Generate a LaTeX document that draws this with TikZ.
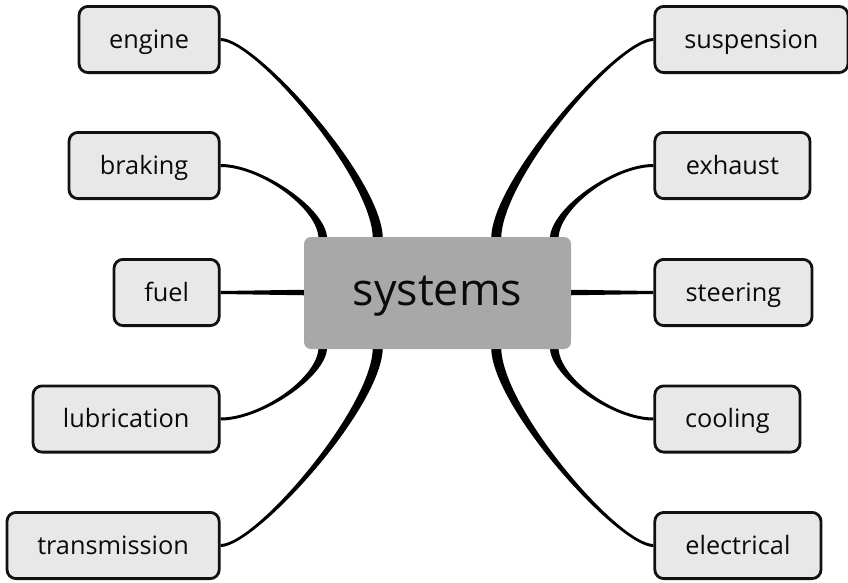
\documentclass[tikz,border=0pt]{standalone}
\usepackage{fontspec}
\setmainfont{Open Sans}
\usetikzlibrary{calc,backgrounds}
\definecolor{boxfill}{HTML}{E8E8E8}
\definecolor{boxline}{HTML}{111111}
\definecolor{hubfill}{HTML}{A8A8A8}
\definecolor{txt}{HTML}{0A0A0A}
% tapered connector: #1 branch anchor, #2 hub point, #3 x-offset of control at branch,
% #4 y-offset of control at hub, #5 half width at branch, #6 half width at hub (signed)
\newcommand\taper[6]{%
  \fill[black] let \p1=(#1), \p2=(#2) in
    (\x1,{\y1+(#5)}) .. controls ({\x1+(#3)},{\y1+(#5)}) and ({\x2+(#6)},{\y2+(#4)}) .. ({\x2+(#6)},\y2)
    -- ({\x2-(#6)},\y2) .. controls ({\x2-(#6)},{\y2+(#4)}) and ({\x1+(#3)},{\y1-(#5)}) .. (\x1,{\y1-(#5)}) -- cycle;}
\begin{document}
\begin{tikzpicture}[x=1pt,y=-1pt,
  branch/.style={draw=boxline, fill=boxfill, line width=2.8pt, rounded corners=9pt,
    minimum height=66.2pt, inner sep=0pt, text=txt,
    font=\fontsize{25.3}{30}\selectfont, text height=21.6pt, text depth=4pt},
  hub/.style={fill=hubfill, rounded corners=7pt, minimum width=267pt, minimum height=112pt,
    inner sep=0pt, text=txt, font=\fontsize{44.8}{52}\selectfont, text height=34pt, text depth=10pt}]
\useasboundingbox (0,0) rectangle (848,582);
\node[hub] (sys) at (437.5,293) {systems};
% left branches
\node[branch, minimum width=140.2pt, anchor=east] (engine) at (220.6,39.5) {engine};
\node[branch, minimum width=150.2pt, anchor=east] (braking) at (220.6,165.5) {braking};
\node[branch, minimum width=105.2pt, anchor=east] (fuel) at (220.6,292.5) {fuel};
\node[branch, minimum width=186.2pt, anchor=east] (lubrication) at (220.6,419) {lubrication};
\node[branch, minimum width=212.2pt, anchor=east] (transmission) at (220.6,545.5) {transmission};
% right branches
\node[branch, minimum width=193.2pt, anchor=west] (suspension) at (653.4,39.5) {suspension};
\node[branch, minimum width=155.2pt, anchor=west] (exhaust) at (653.4,165.5) {exhaust};
\node[branch, minimum width=157.2pt, anchor=west] (steering) at (653.4,292.5) {steering};
\node[branch, minimum width=145.2pt, anchor=west] (cooling) at (653.4,419) {cooling};
\node[branch, minimum width=166.2pt, anchor=west] (electrical) at (653.4,545.5) {electrical};
% hub attachment points
\coordinate (hEngine) at ($(sys.north west)+(74,2)$);
\coordinate (hBraking) at ($(sys.north west)+(19,2)$);
\coordinate (hLub) at ($(sys.south west)+(19,-2)$);
\coordinate (hTrans) at ($(sys.south west)+(74,-2)$);
\coordinate (hSusp) at ($(sys.north east)+(-75,2)$);
\coordinate (hExh) at ($(sys.north east)+(-17,2)$);
\coordinate (hCool) at ($(sys.south east)+(-17,-2)$);
\coordinate (hElec) at ($(sys.south east)+(-75,-2)$);
\begin{scope}[on background layer]
  \taper{engine.east}{hEngine}{35pt}{60pt}{1.5pt}{5pt}
  \taper{braking.east}{hBraking}{40pt}{30pt}{1.5pt}{4.3pt}
  \taper{lubrication.east}{hLub}{40pt}{-30pt}{1.5pt}{-4.3pt}
  \taper{transmission.east}{hTrans}{35pt}{-60pt}{1.5pt}{-5pt}
  \taper{suspension.west}{hSusp}{-35pt}{60pt}{1.5pt}{-5pt}
  \taper{exhaust.west}{hExh}{-40pt}{30pt}{1.5pt}{-4.3pt}
  \taper{cooling.west}{hCool}{-40pt}{-30pt}{1.5pt}{4.3pt}
  \taper{electrical.west}{hElec}{-35pt}{-60pt}{1.5pt}{5pt}
  \fill[black] let \p1=(fuel.east), \p2=(sys.west) in
    (\x1,{\y1+1.5pt}) -- ({\x2+3pt},{\y1+2.8pt}) -- ({\x2+3pt},{\y1-2.8pt}) -- (\x1,{\y1-1.5pt}) -- cycle;
  \fill[black] let \p1=(steering.west), \p2=(sys.east) in
    (\x1,{\y1+1.5pt}) -- ({\x2-3pt},{\y1+2.8pt}) -- ({\x2-3pt},{\y1-2.8pt}) -- (\x1,{\y1-1.5pt}) -- cycle;
\end{scope}
\end{tikzpicture}
\end{document}
